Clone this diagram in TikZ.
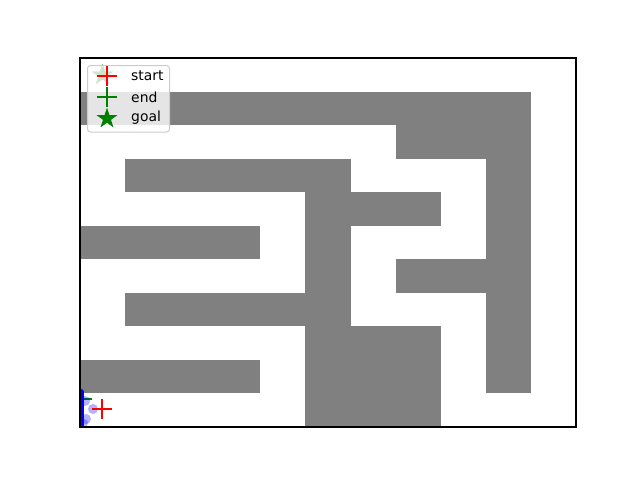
\documentclass[tikz,border=0pt]{standalone}
\usepackage{fontspec}
\setmainfont{DejaVu Sans}
\definecolor{wallgray}{HTML}{808080}
\definecolor{mplgreen}{HTML}{008000}
\definecolor{legedge}{HTML}{CCCCCC}
\colorlet{fadegreen}{mplgreen!20!white}
\tikzset{
  wall/.style={fill=wallgray},
  plusred/.style={draw=red, line width=2pt},
  plusgreen/.style={draw=mplgreen, line width=2pt},
  legtext/.style={anchor=west, inner sep=0pt, font=\fontsize{13.9}{16}\selectfont},
  starpath/.pic={\fill[pic actions] (-90:11) -- (-54:4.2) -- (-18:11) -- (18:4.2) -- (54:11) -- (90:4.2) -- (126:11) -- (162:4.2) -- (198:11) -- (234:4.2) -- cycle;},
}
\begin{document}
\begin{tikzpicture}[x=1pt,y=-1pt]
\useasboundingbox (0,0) rectangle (640,480);
\fill[white] (0,0) rectangle (640,480);
\begin{scope}
\clip (80,58) rectangle (576,427);
\begin{scope}[shift={(80pt,-58pt)}, x=45.0909pt, y=-33.5455pt]
\fill[wall] (0,1) rectangle (10,2);
\fill[wall] (7,2) rectangle (10,3);
\fill[wall] (9,3) rectangle (10,10);
\fill[wall] (1,3) rectangle (6,4);
\fill[wall] (5,4) rectangle (6,11);
\fill[wall] (6,4) rectangle (8,5);
\fill[wall] (0,5) rectangle (4,6);
\fill[wall] (7,6) rectangle (9,7);
\fill[wall] (1,7) rectangle (5,8);
\fill[wall] (6,8) rectangle (8,11);
\fill[wall] (0,9) rectangle (4,10);
\end{scope}
% goal star
\pic[fill=mplgreen] (goalstar) at (102.5,75) {starpath};
% end marker
\draw[plusgreen] (72,399) -- (92,399);
\draw[plusgreen] (82,389) -- (82,409);
% trajectory
\fill[blue, opacity=0.3] (93,409) circle (5);
\fill[blue, opacity=0.3] (85,401) circle (5);
\fill[blue, opacity=0.3] (86,419) circle (5);
\fill[blue, opacity=0.3] (84,423) circle (4);
\draw[blue, line width=5pt, line cap=round] (81.5,392) -- (81.5,430);
% start marker
\draw[plusred] (92,409) -- (112,409);
\draw[plusred] (102,399) -- (102,419);
\end{scope}
% axes frame
\draw[black, line width=1.1pt] (80,58) rectangle (576,427);
% legend
\draw[draw=legedge, fill=white, fill opacity=0.8, line width=1pt, rounded corners=3pt] (87.5,65.5) rectangle (169.5,132);
\begin{scope}
\clip (88,66) rectangle (169,131.5);
\pic[fill=fadegreen] (goalfaded) at (102.5,75) {starpath};
\end{scope}
\draw[plusred] (97,76) -- (117,76);
\draw[plusred] (107,66) -- (107,86);
\draw[plusgreen] (97,97) -- (117,97);
\draw[plusgreen] (107,87) -- (107,107);
\pic[fill=mplgreen] (legstar) at (107,118.5) {starpath};
\node[legtext] (tstart) at (131,76) {start};
\node[legtext] (tend) at (131,97) {end};
\node[legtext] (tgoal) at (131,118) {goal};
\end{tikzpicture}
\end{document}
